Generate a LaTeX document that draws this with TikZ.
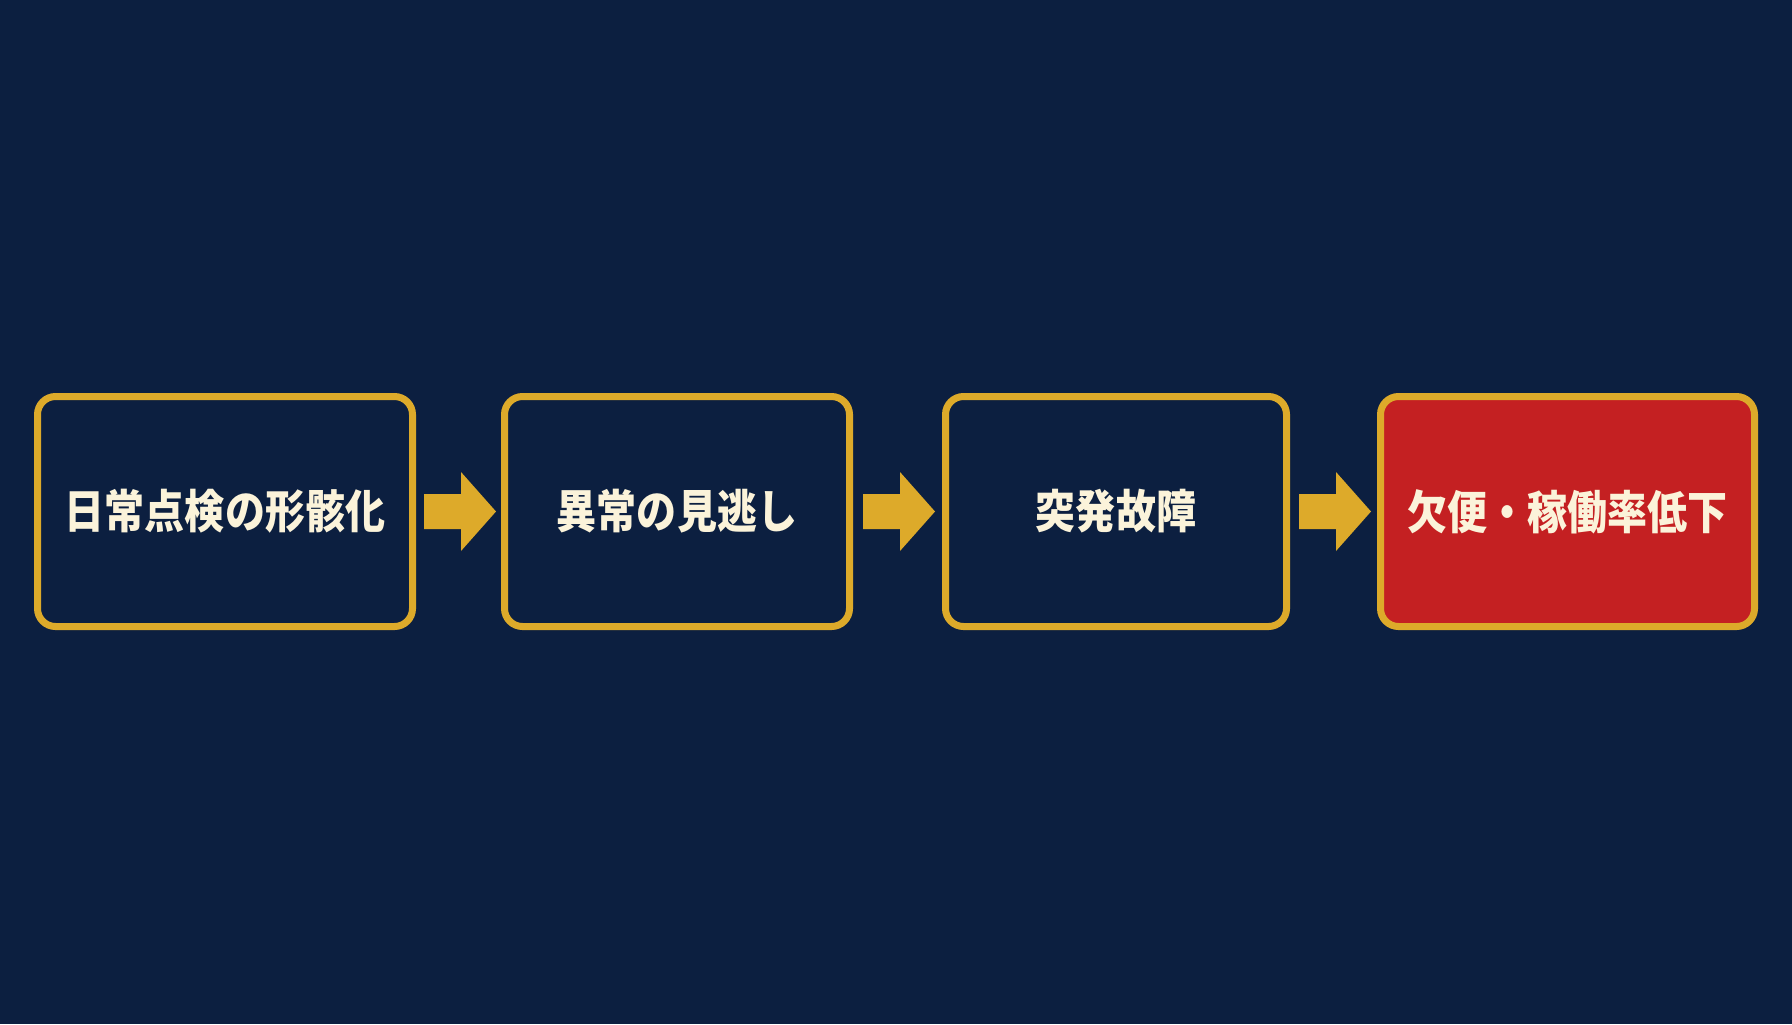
\documentclass[tikz,border=0pt]{standalone}
\usepackage{fontspec}
\newfontfamily\jp{Noto Sans CJK JP}[FakeStretch=0.87]
\definecolor{bgnavy}{HTML}{0C1F40}
\definecolor{gold}{HTML}{DDAA2A}
\definecolor{alarm}{HTML}{C42022}
\definecolor{cream}{HTML}{FBF3DA}
\tikzset{
  stagebox/.style={draw=gold, line width=3.5pt, rounded corners=9pt,
    fill=bgnavy, minimum height=115pt, inner sep=0pt, outer sep=1.75pt,
    text=cream, font=\jp\bfseries\fontsize{23pt}{26pt}\selectfont},
  alarmbox/.style={stagebox, fill=alarm},
  barrow/.pic={\fill[gold] (0,-17.5) -- (37,-17.5) -- (37,-39.5) -- (72,0)
     -- (37,39.5) -- (37,17.5) -- (0,17.5) -- cycle;}
}
\begin{document}
\begin{tikzpicture}[x=0.5pt, y=-0.5pt]
\fill[bgnavy] (0,0) rectangle (1792,1024);
\useasboundingbox (0,0) rectangle (1792,1024);
\node[stagebox, minimum width=187.5pt] (b1) at (225,511.5) {日常点検の形骸化};
\node[stagebox, minimum width=172.5pt] (b2) at (677,511.5) {異常の見逃し};
\node[stagebox, minimum width=170.5pt] (b3) at (1116,511.5) {突発故障};
\node[alarmbox, minimum width=187pt] (b4) at (1567.5,511.5) {欠便・稼働率低下};
\pic at ([xshift=4pt]b1.east) {barrow};
\pic at ([xshift=5pt]b2.east) {barrow};
\pic at ([xshift=4.5pt]b3.east) {barrow};
\end{tikzpicture}
\end{document}
